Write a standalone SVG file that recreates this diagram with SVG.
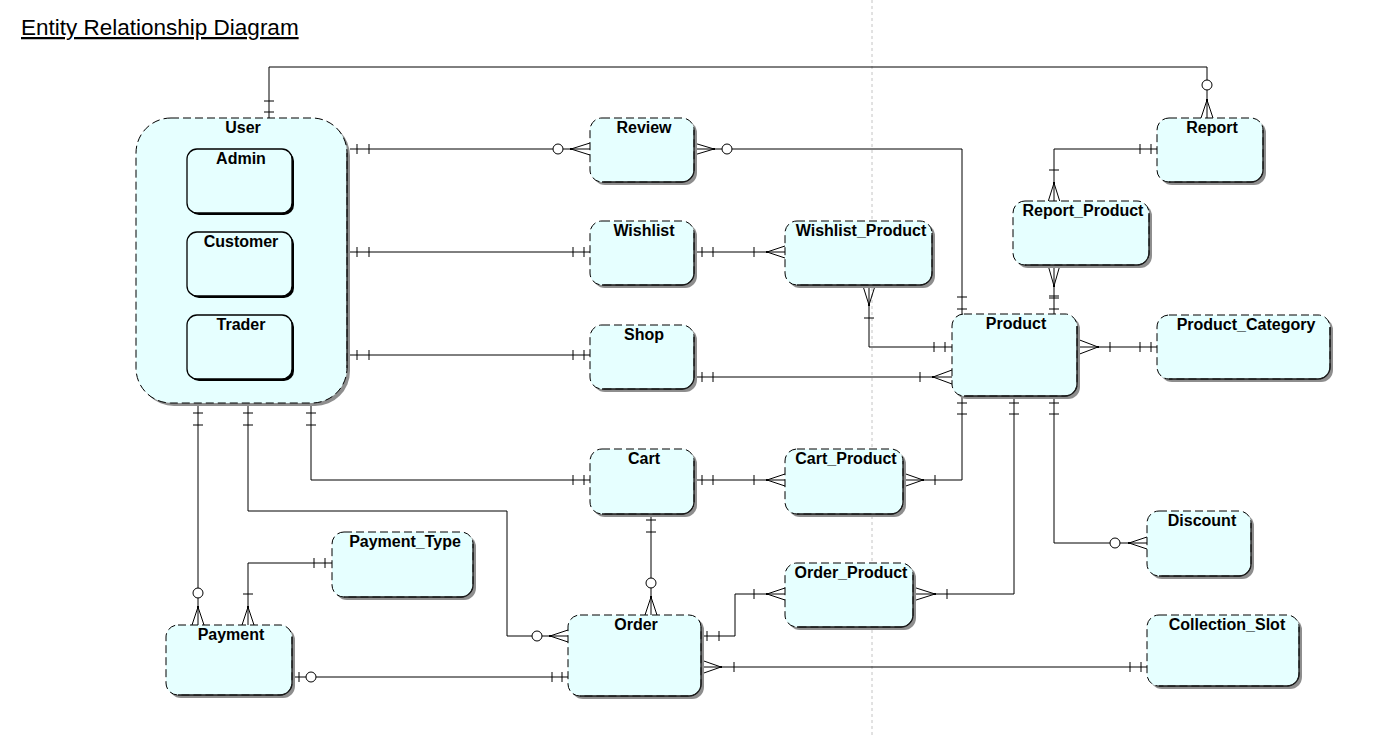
<svg xmlns="http://www.w3.org/2000/svg" width="1394" height="738" viewBox="0 0 1394 738">
<style>
.sh{fill:#8e8e8e}
.ent{fill:#e6ffff;stroke:#000;stroke-width:1;stroke-dasharray:8 4}
.rb{fill:none;stroke:#1a1a1a;stroke-width:1.3}
.sub{fill:#e6ffff;stroke:#000;stroke-width:1.3}
.lbl{font-family:"Liberation Sans",Arial,sans-serif;font-weight:bold;font-size:16px;fill:#000;text-anchor:middle}
.c{fill:none;stroke:#000;stroke-width:1}
.o{fill:#fff;stroke:#000;stroke-width:1}
.d{fill:#000}
</style>
<rect width="1394" height="738" fill="#fff"/>
<line x1="872" y1="0" x2="872" y2="738" stroke="#c4c4c4" stroke-width="1" stroke-dasharray="3 3"/>
<text x="21" y="35" font-family="'Liberation Sans',Arial,sans-serif" font-size="22.5" text-decoration="underline" fill="#000">Entity Relationship Diagram</text>

<g id="connectors">
<!-- User - Report -->
<path class="c" d="M269,118V67H1207V118M264,101H274M264,112H274M1207,100L1201,118M1207,100L1213,118"/>
<circle class="o" cx="1207" cy="85" r="5"/><rect class="d" x="1206" y="99" width="2" height="2"/>
<!-- User - Review -->
<path class="c" d="M350,149H590M357,144V154M369,144V154M571,149L590,143M571,149L590,155"/>
<circle class="o" cx="558" cy="149" r="5"/><rect class="d" x="570" y="148" width="2" height="2"/>
<!-- Review - Product -->
<path class="c" d="M694,149H962V314M714,149L694,143M714,149L694,155M957,297H967M957,309H967"/>
<circle class="o" cx="727" cy="149" r="5"/><rect class="d" x="713" y="148" width="2" height="2"/>
<!-- User - Wishlist -->
<path class="c" d="M350,252H590M357,247V257M369,247V257M573,247V257M584,247V257"/>
<!-- Wishlist - Wishlist_Product -->
<path class="c" d="M694,252H785M702,247V257M713,247V257M754,247V257M767,252L785,246M767,252L785,258"/>
<rect class="d" x="766" y="251" width="2" height="2"/>
<!-- Wishlist_Product - Product -->
<path class="c" d="M869,286V347H952M869,305L863,286M869,305L875,286M864,318H874M934,342V352M945,342V352"/>
<rect class="d" x="868" y="304" width="2" height="2"/>
<!-- User - Shop -->
<path class="c" d="M350,355H590M357,350V360M369,350V360M573,350V360M584,350V360"/>
<!-- Shop - Product -->
<path class="c" d="M694,377H952M702,372V382M713,372V382M920,372V382M933,377L952,370M933,377L952,384"/>
<rect class="d" x="932" y="376" width="2" height="2"/>
<!-- Report - Report_Product -->
<path class="c" d="M1157,149H1054V202M1140,144V154M1151,144V154M1049,170H1059M1054,183L1048,202M1054,183L1060,202"/>
<rect class="d" x="1053" y="182" width="2" height="2"/>
<!-- Report_Product - Product -->
<path class="c" d="M1054,265V314M1054,286L1048,265M1054,286L1060,265M1049,296H1059M1049,298H1059M1049,309H1059"/>
<rect class="d" x="1053" y="285" width="2" height="2"/>
<!-- Product - Product_Category -->
<path class="c" d="M1077,347H1157M1098,347L1077,339M1098,347L1077,355M1110,342V352M1140,342V352M1151,342V352"/>
<rect class="d" x="1097" y="346" width="2" height="2"/>
<!-- User - Cart -->
<path class="c" d="M311,406V480H590M306,413H316M306,425H316M573,475V485M584,475V485"/>
<!-- Cart - Cart_Product -->
<path class="c" d="M694,480H785M702,475V485M713,475V485M754,475V485M767,480L785,474M767,480L785,486"/>
<rect class="d" x="766" y="479" width="2" height="2"/>
<!-- Cart_Product - Product -->
<path class="c" d="M903,480H962V396M923,480L903,473M923,480L903,487M935,475V485M957,403H967M957,414H967"/>
<rect class="d" x="922" y="479" width="2" height="2"/>
<!-- Cart - Order -->
<path class="c" d="M651,514V615M646,520H656M646,532H656M651,597L645,615M651,597L657,615"/>
<circle class="o" cx="651" cy="583" r="5"/><rect class="d" x="650" y="596" width="2" height="2"/>
<!-- User - Order -->
<path class="c" d="M248,406V511H507V636H568M243,413H253M243,425H253M550,636L568,630M550,636L568,642"/>
<circle class="o" cx="537" cy="636" r="5"/><rect class="d" x="549" y="635" width="2" height="2"/>
<!-- User - Payment -->
<path class="c" d="M198,406V625M193,413H203M193,425H203M198,607L192,625M198,607L204,625"/>
<circle class="o" cx="198" cy="593" r="5"/><rect class="d" x="197" y="606" width="2" height="2"/>
<!-- Payment_Type - Payment -->
<path class="c" d="M332,563H248V625M314,558V568M325,558V568M243,594H253M248,607L242,625M248,607L254,625"/>
<rect class="d" x="247" y="606" width="2" height="2"/>
<!-- Payment - Order -->
<path class="c" d="M292,677H568M299,672V682M552,672V682M562,672V682"/>
<circle class="o" cx="311" cy="677" r="5"/>
<!-- Order - Order_Product -->
<path class="c" d="M701,636H735V594H785M707,631V641M719,631V641M754,589V599M767,594L785,588M767,594L785,600"/>
<rect class="d" x="766" y="593" width="2" height="2"/>
<!-- Order_Product - Product -->
<path class="c" d="M913,594H1014V396M935,594L913,587M935,594L913,601M947,589V599M1009,403H1019M1009,414H1019"/>
<rect class="d" x="934" y="593" width="2" height="2"/>
<!-- Product - Discount -->
<path class="c" d="M1054,396V543H1147M1049,403H1059M1049,414H1059M1129,543L1147,537M1129,543L1147,549"/>
<circle class="o" cx="1115" cy="543" r="5"/><rect class="d" x="1128" y="542" width="2" height="2"/>
<!-- Order - Collection_Slot -->
<path class="c" d="M701,667H1147M721,667L701,660M721,667L701,674M734,662V672M1130,662V672M1141,662V672"/>
<rect class="d" x="720" y="666" width="2" height="2"/>
</g>

<g id="User">
<rect class="sh" x="139" y="121" width="211" height="285" rx="35"/>
<rect class="ent" x="136" y="118" width="211" height="285" rx="35"/>
<path class="rb" d="M347,153V368"/>
<text class="lbl" x="243" y="133">User</text>
</g>
<g id="Admin">
<rect x="189" y="151" width="105" height="64" rx="10" fill="#000"/>
<rect class="sub" x="187" y="149" width="105" height="64" rx="10"/>
<text class="lbl" x="241" y="164">Admin</text>
</g>
<g id="Customer">
<rect x="189" y="234" width="105" height="64" rx="10" fill="#000"/>
<rect class="sub" x="187" y="232" width="105" height="64" rx="10"/>
<text class="lbl" x="241" y="247">Customer</text>
</g>
<g id="Trader">
<rect x="189" y="317" width="105" height="64" rx="10" fill="#000"/>
<rect class="sub" x="187" y="315" width="105" height="64" rx="10"/>
<text class="lbl" x="241" y="330">Trader</text>
</g>

<g id="Review">
<rect class="sh" x="593" y="121" width="104" height="64" rx="12"/>
<rect class="ent" x="590" y="118" width="104" height="64" rx="12"/>
<path class="rb" d="M694,130V170A12,12 0 0 1 682,182H602"/>
<text class="lbl" x="644" y="133">Review</text>
</g>
<g id="Wishlist">
<rect class="sh" x="593" y="224" width="104" height="64" rx="12"/>
<rect class="ent" x="590" y="221" width="104" height="64" rx="12"/>
<path class="rb" d="M694,233V273A12,12 0 0 1 682,285H602"/>
<text class="lbl" x="644" y="236">Wishlist</text>
</g>
<g id="Wishlist_Product">
<rect class="sh" x="788" y="224" width="147" height="64" rx="12"/>
<rect class="ent" x="785" y="221" width="147" height="64" rx="12"/>
<path class="rb" d="M932,233V273A12,12 0 0 1 920,285H797"/>
<text class="lbl" x="861" y="236">Wishlist_Product</text>
</g>
<g id="Shop">
<rect class="sh" x="593" y="328" width="104" height="64" rx="12"/>
<rect class="ent" x="590" y="325" width="104" height="64" rx="12"/>
<path class="rb" d="M694,337V377A12,12 0 0 1 682,389H602"/>
<text class="lbl" x="644" y="340">Shop</text>
</g>
<g id="Product">
<rect class="sh" x="955" y="317" width="125" height="82" rx="12"/>
<rect class="ent" x="952" y="314" width="125" height="82" rx="12"/>
<path class="rb" d="M1077,326V384A12,12 0 0 1 1065,396H964"/>
<text class="lbl" x="1016" y="329">Product</text>
</g>
<g id="Report">
<rect class="sh" x="1160" y="121" width="106" height="64" rx="12"/>
<rect class="ent" x="1157" y="118" width="106" height="64" rx="12"/>
<path class="rb" d="M1263,130V170A12,12 0 0 1 1251,182H1169"/>
<text class="lbl" x="1212" y="133">Report</text>
</g>
<g id="Report_Product">
<rect class="sh" x="1016" y="204" width="136" height="64" rx="12"/>
<rect class="ent" x="1013" y="201" width="136" height="64" rx="12"/>
<path class="rb" d="M1149,213V253A12,12 0 0 1 1137,265H1025"/>
<text class="lbl" x="1083" y="216">Report_Product</text>
</g>
<g id="Product_Category">
<rect class="sh" x="1160" y="318" width="173" height="64" rx="12"/>
<rect class="ent" x="1157" y="315" width="173" height="64" rx="12"/>
<path class="rb" d="M1330,327V367A12,12 0 0 1 1318,379H1169"/>
<text class="lbl" x="1246" y="330">Product_Category</text>
</g>
<g id="Cart">
<rect class="sh" x="593" y="452" width="104" height="65" rx="12"/>
<rect class="ent" x="590" y="449" width="104" height="65" rx="12"/>
<path class="rb" d="M694,461V502A12,12 0 0 1 682,514H602"/>
<text class="lbl" x="644" y="464">Cart</text>
</g>
<g id="Cart_Product">
<rect class="sh" x="788" y="452" width="118" height="65" rx="12"/>
<rect class="ent" x="785" y="449" width="118" height="65" rx="12"/>
<path class="rb" d="M903,461V502A12,12 0 0 1 891,514H797"/>
<text class="lbl" x="846" y="464">Cart_Product</text>
</g>
<g id="Order_Product">
<rect class="sh" x="788" y="566" width="128" height="64" rx="12"/>
<rect class="ent" x="785" y="563" width="128" height="64" rx="12"/>
<path class="rb" d="M913,575V615A12,12 0 0 1 901,627H797"/>
<text class="lbl" x="851" y="578">Order_Product</text>
</g>
<g id="Order">
<rect class="sh" x="571" y="618" width="133" height="81" rx="12"/>
<rect class="ent" x="568" y="615" width="133" height="81" rx="12"/>
<path class="rb" d="M701,627V684A12,12 0 0 1 689,696H580"/>
<text class="lbl" x="636" y="630">Order</text>
</g>
<g id="Payment_Type">
<rect class="sh" x="335" y="535" width="141" height="65" rx="12"/>
<rect class="ent" x="332" y="532" width="141" height="65" rx="12"/>
<path class="rb" d="M473,544V585A12,12 0 0 1 461,597H344"/>
<text class="lbl" x="405" y="547">Payment_Type</text>
</g>
<g id="Payment">
<rect class="sh" x="169" y="628" width="126" height="70" rx="12"/>
<rect class="ent" x="166" y="625" width="126" height="70" rx="12"/>
<path class="rb" d="M292,637V683A12,12 0 0 1 280,695H178"/>
<text class="lbl" x="231" y="640">Payment</text>
</g>
<g id="Discount">
<rect class="sh" x="1150" y="514" width="104" height="65" rx="12"/>
<rect class="ent" x="1147" y="511" width="104" height="65" rx="12"/>
<path class="rb" d="M1251,523V564A12,12 0 0 1 1239,576H1159"/>
<text class="lbl" x="1202" y="526">Discount</text>
</g>
<g id="Collection_Slot">
<rect class="sh" x="1150" y="618" width="152" height="71" rx="12"/>
<rect class="ent" x="1147" y="615" width="152" height="71" rx="12"/>
<path class="rb" d="M1299,627V674A12,12 0 0 1 1287,686H1159"/>
<text class="lbl" x="1227" y="630">Collection_Slot</text>
</g>
</svg>
